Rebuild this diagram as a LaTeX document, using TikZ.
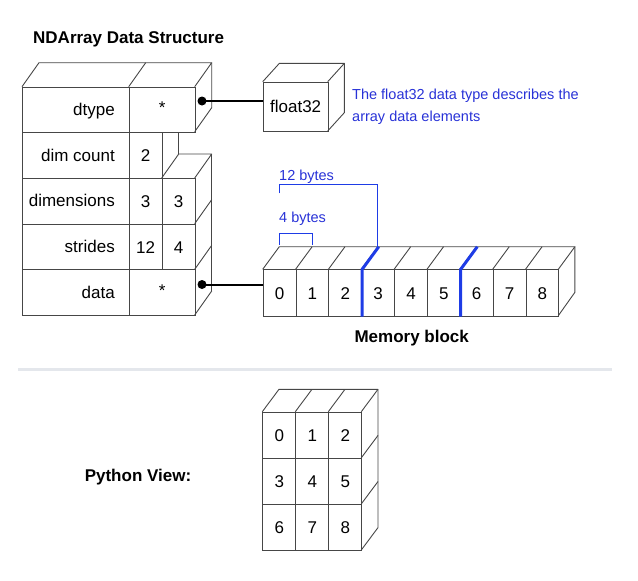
\documentclass[tikz,border=0pt]{standalone}
\usepackage{fontspec}
\setmainfont{Liberation Sans}
\definecolor{myblue}{RGB}{40,50,215}
\definecolor{lineblue}{RGB}{30,60,230}
\definecolor{sepgray}{RGB}{228,231,236}
\definecolor{edge}{RGB}{70,70,70}
\begin{document}
\begin{tikzpicture}[x=1pt,y=-1pt,
  ln/.style={draw=edge, line width=0.9pt, line join=round},
  cell/.style={draw=edge, line width=0.9pt, rectangle, inner sep=0pt, anchor=north west},
  lab/.style={font=\fontsize{17}{20}\selectfont, inner sep=0pt},
  bluetxt/.style={font=\fontsize{14.5}{17}\selectfont, text=myblue, inner sep=0pt},
  boldtxt/.style={font=\fontsize{17}{20}\selectfont\bfseries, inner sep=0pt},
  dot/.style={circle, fill=black, inner sep=0pt, minimum size=9pt},
  conn/.style={draw=black, line width=2pt},
  bluebrk/.style={draw=lineblue, line width=1.2pt},
  bluethick/.style={draw=lineblue, line width=3pt}]
\useasboundingbox (0,0) rectangle (638,581);

% ---------- title ----------
\node[boldtxt, anchor=base west] (title) at (33,43) {NDArray Data Structure};

% ---------- NDArray structure ----------
\draw[ln] (22,86.7) -- (39,62.7) -- (211.7,62.7) -- (194.7,86.7);
\draw[ln] (128.7,86.7) -- (145.7,62.7);
\draw[ln] (211.7,62.7) -- (211.7,107.7) -- (194.7,131.7);

\node[cell, minimum width=106.7pt, minimum height=45.66pt] (dtl) at (22,86.7) {};
\node[cell, minimum width=66pt, minimum height=45.66pt] (dtv) at (128.7,86.7) {};
\node[cell, minimum width=106.7pt, minimum height=45.66pt] (dcl) at (22,132.36) {};
\node[cell, minimum width=33pt, minimum height=45.66pt] (dcv) at (128.7,132.36) {};
\node[cell, minimum width=106.7pt, minimum height=45.66pt] (dml) at (22,178.02) {};
\node[cell, minimum width=33pt, minimum height=45.66pt] (dma) at (128.7,178.02) {};
\node[cell, minimum width=33pt, minimum height=45.66pt] (dmb) at (161.7,178.02) {};
\node[cell, minimum width=106.7pt, minimum height=45.66pt] (stl) at (22,223.68) {};
\node[cell, minimum width=33pt, minimum height=45.66pt] (sta) at (128.7,223.68) {};
\node[cell, minimum width=33pt, minimum height=45.66pt] (stb) at (161.7,223.68) {};
\node[cell, minimum width=106.7pt, minimum height=45.66pt] (dal) at (22,269.34) {};
\node[cell, minimum width=66pt, minimum height=45.66pt] (dav) at (128.7,269.34) {};

\draw[ln] (178.7,132.36) -- (178.7,154.02);
\draw[ln] (161.7,178.02) -- (178.7,154.02) -- (211.7,154.02) -- (194.7,178.02);
\draw[ln] (211.7,154.02) -- (211.7,291);
\draw[ln] (194.7,223.68) -- (211.7,199.68);
\draw[ln] (194.7,269.34) -- (211.7,245.34);
\draw[ln] (194.7,315) -- (211.7,291);

\node[lab, anchor=base east] at (115,115.5) {dtype};
\node[lab, anchor=base east] at (115,161.2) {dim count};
\node[lab, anchor=base east] at (115,206.9) {dimensions};
\node[lab, anchor=base east] at (115,252.5) {strides};
\node[lab, anchor=base east] at (115,298.2) {data};
\node[lab] at ([yshift=2pt]dtv.center) {*};
\node[lab, anchor=base] at ([yshift=-6.2pt]dcv.center) {2};
\node[lab, anchor=base] at ([yshift=-6.2pt]dma.center) {3};
\node[lab, anchor=base] at ([yshift=-6.2pt]dmb.center) {3};
\node[lab, anchor=base] at ([yshift=-6.2pt]sta.center) {12};
\node[lab, anchor=base] at ([yshift=-6.2pt]stb.center) {4};
\node[lab] at ([yshift=2pt]dav.center) {*};

\node[dot] (d1) at (202,101) {};
\node[dot] (d2) at (202,284.5) {};

% ---------- float32 box ----------
\node[cell, minimum width=65pt, minimum height=49.3pt] (f32) at (262.7,81.7) {};
\node[lab] at (f32.center) {float32};
\draw[ln] (262.7,81.7) -- (279.4,63.3) -- (344.4,63.3) -- (327.7,81.7);
\draw[ln] (344.4,63.3) -- (344.4,112.6) -- (327.7,131);
\draw[conn] (d1.center) -- (d1 -| f32.west);

\node[bluetxt, anchor=base west] (b1) at (352,99.3) {The float32 data type describes the};
\node[bluetxt, anchor=base west] (b2) at (352,121.7) {array data elements};

% ---------- memory block ----------
\foreach \i in {0,...,8} {
  \node[cell, minimum width=32.85pt, minimum height=46.4pt] (m\i) at ({262.7+32.85*\i},269.3) {};
  \node[lab, anchor=base] at ([yshift=-6.2pt]m\i.center) {\i};
}
\draw[ln] (262.7,269.3) -- (279.3,246.7) -- (574.9,246.7) -- (558.3,269.3);
\foreach \i in {1,...,8} {
  \draw[ln] ({262.7+32.85*\i},269.3) -- ({279.3+32.85*\i},246.7);
}
\draw[ln] (574.9,246.7) -- (574.9,292.3) -- (558.3,315.7);
\draw[bluethick] (m2.south east) -- (m2.north east) -- ++(16.6,-22.6);
\draw[bluethick] (m5.south east) -- (m5.north east) -- ++(16.6,-22.6);
\draw[conn] (d2.center) -- (d2 -| m0.west);

\draw[bluebrk] (279.3,193.3) -- (279.3,184.3) -- (377.85,184.3) -- (377.85,246.7);
\draw[bluebrk] (279.3,244.8) -- (279.3,233.3) -- (312.15,233.3) -- (312.15,244.8);
\node[bluetxt, anchor=base west] (t12) at (279,180) {12 bytes};
\node[bluetxt, anchor=base west] (t4) at (279,222.7) {4 bytes};

\node[boldtxt] (mb) at (411.7,337.7) {Memory block};

% ---------- separator ----------
\draw[sepgray, line width=3pt] (18,369) -- (612,369);

% ---------- Python view ----------
\foreach \r in {0,1,2} {
  \foreach \c in {0,1,2} {
    \pgfmathtruncatemacro{\v}{3*\r+\c}
    \node[cell, minimum width=33pt, minimum height=46.1pt] (p\r\c) at ({262.3+33*\c},{411.7+46.1*\r}) {};
    \node[lab, anchor=base] at ([yshift=-6.2pt]p\r\c.center) {\v};
  }
}
\draw[ln] (262.3,411.7) -- (279,389.3) -- (378,389.3) -- (361.3,411.7);
\draw[ln] (295.3,411.7) -- (312,389.3);
\draw[ln] (328.3,411.7) -- (345,389.3);
\draw[ln] (378,389.3) -- (378,527.6) -- (361.3,550);
\draw[ln] (361.3,457.8) -- (378,435.4);
\draw[ln] (361.3,503.9) -- (378,481.5);

\node[boldtxt] (pv) at (138,477) {Python View:};
\end{tikzpicture}
\end{document}
